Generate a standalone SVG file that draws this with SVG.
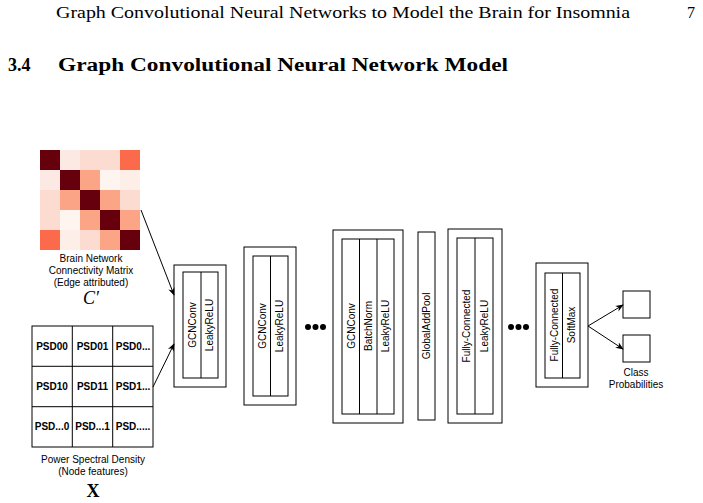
<svg xmlns="http://www.w3.org/2000/svg" width="703" height="503" viewBox="0 0 703 503">
<style>
.hd{font-family:"Liberation Serif",serif;font-size:16px;fill:#000}
.sec{font-family:"Liberation Serif",serif;font-size:18px;font-weight:bold;fill:#000}
.lb{font-family:"Liberation Sans",sans-serif;font-size:10px;fill:#000;text-anchor:middle}
.ps{font-family:"Liberation Sans",sans-serif;font-size:10px;font-weight:bold;fill:#000;text-anchor:middle}
.vt{font-family:"Liberation Sans",sans-serif;font-size:10px;fill:#000;text-anchor:middle;dominant-baseline:central}
.bx{fill:#fff;stroke:#000;stroke-width:1}
.ln{stroke:#000;stroke-width:1;fill:none}
.ar{stroke:#000;stroke-width:1;fill:none;marker-end:url(#ah)}
.mx{font-family:"Liberation Serif",serif;font-size:18px;font-style:italic;text-anchor:middle}
</style>
<defs>
<marker id="ah" viewBox="0 0 10 10" refX="9" refY="5" markerWidth="8" markerHeight="8" orient="auto" markerUnits="userSpaceOnUse"><path d="M0,1 L10,5 L0,9 L3,5 Z" fill="#000"/></marker>
</defs>
<rect width="703" height="503" fill="#fff"/>
<text class="hd" x="56" y="18" textLength="574" lengthAdjust="spacingAndGlyphs">Graph Convolutional Neural Networks to Model the Brain for Insomnia</text>
<text class="hd" x="687" y="18">7</text>
<text class="sec" x="8" y="71">3.4</text>
<text class="sec" x="58" y="71" textLength="450" lengthAdjust="spacingAndGlyphs">Graph Convolutional Neural Network Model</text>

<g id="matrix">
<rect x="40" y="150" width="20" height="20" fill="#67000d"/><rect x="60" y="150" width="20" height="20" fill="#fde9e3"/><rect x="80" y="150" width="20" height="20" fill="#fcdcd0"/><rect x="100" y="150" width="20" height="20" fill="#fcdcd0"/><rect x="120" y="150" width="20" height="20" fill="#fb6a4a"/>
<rect x="40" y="170" width="20" height="20" fill="#fde9e3"/><rect x="60" y="170" width="20" height="20" fill="#67000d"/><rect x="80" y="170" width="20" height="20" fill="#fca486"/><rect x="100" y="170" width="20" height="20" fill="#fff5f0"/><rect x="120" y="170" width="20" height="20" fill="#fdeee8"/>
<rect x="40" y="190" width="20" height="20" fill="#fcdcd0"/><rect x="60" y="190" width="20" height="20" fill="#fca486"/><rect x="80" y="190" width="20" height="20" fill="#67000d"/><rect x="100" y="190" width="20" height="20" fill="#fca486"/><rect x="120" y="190" width="20" height="20" fill="#fcdcd0"/>
<rect x="40" y="210" width="20" height="20" fill="#fcdcd0"/><rect x="60" y="210" width="20" height="20" fill="#fff5f0"/><rect x="80" y="210" width="20" height="20" fill="#fca486"/><rect x="100" y="210" width="20" height="20" fill="#67000d"/><rect x="120" y="210" width="20" height="20" fill="#fca486"/>
<rect x="40" y="230" width="20" height="20" fill="#fb6a4a"/><rect x="60" y="230" width="20" height="20" fill="#fdeee8"/><rect x="80" y="230" width="20" height="20" fill="#fcdcd0"/><rect x="100" y="230" width="20" height="20" fill="#fca486"/><rect x="120" y="230" width="20" height="20" fill="#67000d"/>
<text class="lb" x="91" y="262">Brain Network</text>
<text class="lb" x="91" y="274">Connectivity Matrix</text>
<text class="lb" x="91" y="286">(Edge attributed)</text>
<text class="mx" x="91" y="304">C′</text>
</g>

<g id="psd">
<rect class="bx" x="32" y="326" width="121" height="121"/>
<line class="ln" x1="72.3" y1="326" x2="72.3" y2="447"/><line class="ln" x1="112.7" y1="326" x2="112.7" y2="447"/>
<line class="ln" x1="32" y1="366.3" x2="153" y2="366.3"/><line class="ln" x1="32" y1="406.7" x2="153" y2="406.7"/>
<text class="ps" x="52" y="350">PSD00</text><text class="ps" x="92.5" y="350">PSD01</text><text class="ps" x="133" y="350">PSD0...</text>
<text class="ps" x="52" y="390">PSD10</text><text class="ps" x="92.5" y="390">PSD11</text><text class="ps" x="133" y="390">PSD1...</text>
<text class="ps" x="52" y="430">PSD...0</text><text class="ps" x="92.5" y="430">PSD...1</text><text class="ps" x="133" y="430">PSD.....</text>
<text class="lb" x="93" y="463">Power Spectral Density</text>
<text class="lb" x="93" y="475">(Node features)</text>
<text x="93" y="497" style="font-family:'Liberation Serif',serif;font-size:18px;font-weight:bold;text-anchor:middle">X</text>
</g>

<g id="layer1">
<rect class="bx" x="174" y="265" width="52" height="122"/>
<rect class="bx" x="183" y="272" width="35" height="106"/>
<line class="ln" x1="201" y1="272" x2="201" y2="378"/>
<text class="vt" transform="translate(192,325) rotate(-90)">GCNConv</text>
<text class="vt" transform="translate(209.5,325) rotate(-90)">LeakyReLU</text>
</g>
<g id="layer2">
<rect class="bx" x="244" y="247" width="52" height="158"/>
<rect class="bx" x="253" y="256" width="35" height="140"/>
<line class="ln" x1="270.5" y1="256" x2="270.5" y2="396"/>
<text class="vt" transform="translate(262,326) rotate(-90)">GCNConv</text>
<text class="vt" transform="translate(279.5,326) rotate(-90)">LeakyReLU</text>
</g>
<g id="dots1" fill="#000"><circle cx="308" cy="327" r="3"/><circle cx="315.5" cy="327" r="3"/><circle cx="323" cy="327" r="3"/></g>
<g id="layer3">
<rect class="bx" x="333" y="230" width="70" height="193"/>
<rect class="bx" x="342" y="239" width="52" height="175"/>
<line class="ln" x1="359.5" y1="239" x2="359.5" y2="414"/><line class="ln" x1="377" y1="239" x2="377" y2="414"/>
<text class="vt" transform="translate(351,326) rotate(-90)">GCNConv</text>
<text class="vt" transform="translate(368,326) rotate(-90)">BatchNorm</text>
<text class="vt" transform="translate(385.5,326) rotate(-90)">LeakyReLU</text>
</g>
<g id="pool">
<rect class="bx" x="418" y="232" width="17" height="188"/>
<text class="vt" transform="translate(426.5,326) rotate(-90)">GlobalAddPool</text>
</g>
<g id="layer4">
<rect class="bx" x="448" y="229" width="54" height="194"/>
<rect class="bx" x="457" y="238" width="36" height="176"/>
<line class="ln" x1="475" y1="238" x2="475" y2="414"/>
<text class="vt" transform="translate(466,326) rotate(-90)">Fully-Connected</text>
<text class="vt" transform="translate(484,326) rotate(-90)">LeakyReLU</text>
</g>
<g id="dots2" fill="#000"><circle cx="511" cy="327" r="3"/><circle cx="518.5" cy="327" r="3"/><circle cx="526" cy="327" r="3"/></g>
<g id="layer5">
<rect class="bx" x="536" y="263" width="52" height="124"/>
<rect class="bx" x="545" y="273" width="35" height="105"/>
<line class="ln" x1="562.5" y1="273" x2="562.5" y2="378"/>
<text class="vt" transform="translate(554,325) rotate(-90)">Fully-Connected</text>
<text class="vt" transform="translate(571.5,325) rotate(-90)">SoftMax</text>
</g>
<g id="classes">
<rect class="bx" x="623" y="291" width="27" height="27"/>
<rect class="bx" x="623" y="335" width="27" height="27"/>
<text class="lb" x="636" y="376">Class</text>
<text class="lb" x="636" y="388">Probabilities</text>
</g>
<g id="connectors">
<line class="ar" x1="141" y1="210" x2="174" y2="295"/>
<line class="ar" x1="153" y1="387" x2="174" y2="344"/>
<line class="ar" x1="588" y1="326" x2="623" y2="305"/>
<line class="ar" x1="588" y1="326" x2="623" y2="349"/>
</g>
</svg>
